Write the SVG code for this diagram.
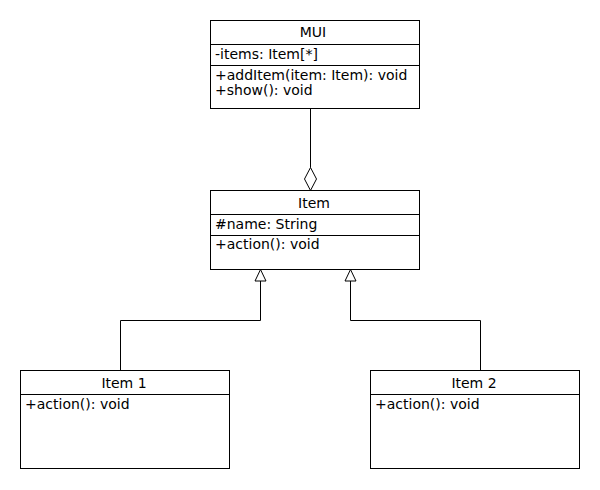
<svg xmlns="http://www.w3.org/2000/svg" width="600" height="490" viewBox="0 0 600 490">
<defs>
<style>
rect.box{fill:#fff;stroke:#000;stroke-width:1}
line.sep{stroke:#000;stroke-width:1}
text{font-family:"DejaVu Sans",sans-serif;font-size:14px;fill:#000}
text.t{text-anchor:middle}
.c{fill:none;stroke:#000;stroke-width:1}
</style>
</defs>
<rect width="600" height="490" fill="#fff"/>
<g id="connectors">
<polyline class="c" points="310.5,108.5 310.5,167.5"/>
<polygon class="c" points="310.5,167.5 316.5,179 310.5,190.5 304.5,179" fill="#fff"/>
<polyline class="c" points="260.5,281 260.5,320.5 120.5,320.5 120.5,370.5"/>
<polygon class="c" points="260.5,269.5 266,281 255,281" fill="#fff"/>
<polyline class="c" points="350.5,281 350.5,320.5 480.5,320.5 480.5,370.5"/>
<polygon class="c" points="350.5,269.5 356,281 345,281" fill="#fff"/>
</g>
<g id="MUI">
<rect class="box" x="210.5" y="20.5" width="209" height="88"/>
<line class="sep" x1="210.5" y1="44.5" x2="419.5" y2="44.5"/>
<line class="sep" x1="210.5" y1="65.5" x2="419.5" y2="65.5"/>
<text class="t" x="313" y="37">MUI</text>
<text x="215" y="59">-items: Item[*]</text>
<text x="215" y="80">+addItem(item: Item): void</text>
<text x="215" y="95">+show(): void</text>
</g>
<g id="Item">
<rect class="box" x="210.5" y="190.5" width="209" height="79"/>
<line class="sep" x1="210.5" y1="214.5" x2="419.5" y2="214.5"/>
<line class="sep" x1="210.5" y1="235.5" x2="419.5" y2="235.5"/>
<text class="t" x="314" y="208">Item</text>
<text x="215" y="229">#name: String</text>
<text x="215" y="249">+action(): void</text>
</g>
<g id="Item1">
<rect class="box" x="20.5" y="370.5" width="209" height="98"/>
<line class="sep" x1="20.5" y1="394.5" x2="229.5" y2="394.5"/>
<text class="t" x="124" y="388">Item 1</text>
<text x="25" y="409">+action(): void</text>
</g>
<g id="Item2">
<rect class="box" x="370.5" y="370.5" width="209" height="98"/>
<line class="sep" x1="370.5" y1="394.5" x2="579.5" y2="394.5"/>
<text class="t" x="474" y="388">Item 2</text>
<text x="375" y="409">+action(): void</text>
</g>
</svg>
